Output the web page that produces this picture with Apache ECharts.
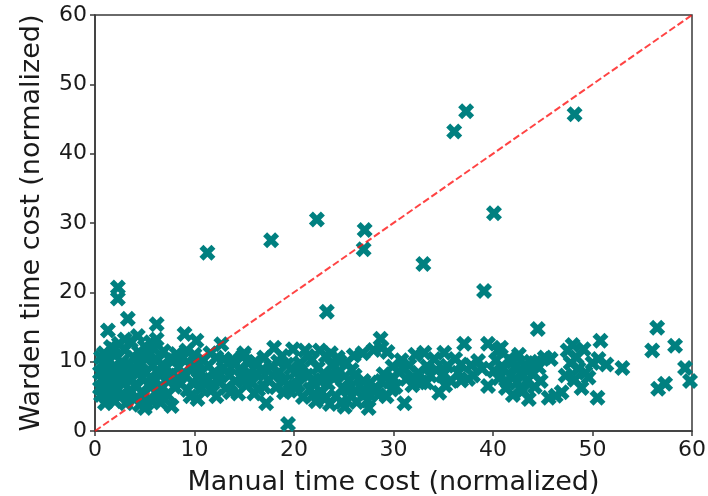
<!DOCTYPE html>
<html>
<head>
<meta charset="utf-8">
<script src="https://cdn.jsdelivr.net/npm/echarts@6/dist/echarts.min.js"></script>
<style>
html,body{margin:0;padding:0;background:#fff;}
#chart{width:708px;height:496px;}
</style>
</head>
<body>
<div id="chart"></div>
<script>
// Manual vs Warden time cost (normalized), [manual, warden]
var pointsA = [[0.6,5.2],[0.7,7.5],[0.8,9.8],[0.9,11.2],[1.0,6.3],[1.1,8.6],[1.2,4.8],[1.3,10.4],[1.3,14.5],[1.5,7.1],[1.6,12.1],[1.7,5.7],[1.8,9.2],[2.0,4.3],[2.0,10.9],[2.1,7.9],[2.2,6.2],[2.3,20.7],[2.3,19.1],[2.4,12.6],[2.5,8.8],[2.6,5.1],[2.7,10.0],[2.9,6.8],[3.0,11.7],[3.1,4.0],[3.2,8.3],[3.3,16.2],[3.4,9.6],[3.5,5.9],[3.6,12.9],[3.7,7.4],[3.9,10.6],[4.0,4.6],[4.1,8.9],[4.2,6.4],[4.3,13.7],[4.4,11.4],[4.5,3.8],[4.6,9.9],[4.7,7.6],[4.9,5.3],[5.0,3.3],[5.0,12.2],[5.1,8.4],[5.3,10.8],[5.4,6.7],[5.6,4.5],[5.8,9.4],[5.9,11.9],[6.0,7.2],[6.1,5.6],[6.2,15.4],[6.2,13.2],[6.3,10.2],[6.5,8.1],[6.6,4.1],[6.8,6.3],[6.9,11.5],[7.0,9.0],[7.2,7.4],[7.3,5.2],[7.5,10.4],[7.7,3.6],[7.8,8.3],[8.0,6.4],[8.2,11.1],[8.4,9.2]];
var pointsA2 = [[0.5,8.4],[0.6,10.6],[1.0,4.0],[1.4,9.0],[1.9,6.8],[2.8,7.4],[3.3,5.0],[3.8,9.0],[4.5,10.6],[5.2,4.0],[5.6,7.8],[6.4,6.0],[6.8,9.6],[7.4,8.0],[7.9,10.2],[3.0,13.2],[5.6,12.8],[1.9,11.8],[0.5,6.2]];
var pointsB = [[8.6,6.8],[8.8,10.5],[9.0,14.0],[9.1,8.0],[9.3,5.9],[9.6,9.4],[9.8,7.0],[10.0,11.0],[10.2,13.0],[10.3,4.6],[10.4,8.6],[10.7,6.2],[10.9,10.2],[11.2,7.6],[11.3,25.7],[11.4,9.4],[11.7,5.9],[12.0,8.4],[12.2,10.6],[12.5,7.0],[12.7,12.5],[12.9,9.1],[13.2,6.2],[13.5,8.0],[13.8,10.3],[14.1,7.2],[14.4,5.4],[14.6,9.0],[14.9,10.8],[15.2,6.6],[15.5,8.4],[15.8,7.0],[16.1,10.0],[16.4,6.0],[16.7,8.7],[17.0,10.6],[17.2,4.0],[17.4,7.4],[17.7,9.3],[17.7,27.5],[18.0,12.0],[18.2,6.3],[18.5,8.5],[18.8,10.8],[19.0,7.2],[19.3,9.6],[19.4,1.0],[19.6,5.8],[19.9,11.8],[20.1,8.4]];
var pointsB2 = [[8.3,7.6],[9.2,11.6],[9.6,5.0],[10.1,9.2],[10.8,7.4],[11.6,11.2],[11.8,6.8],[12.6,8.2],[13.0,10.4],[13.6,5.6],[14.0,9.6],[14.8,7.8],[15.4,9.8],[16.0,5.4],[16.3,8.2],[17.0,6.4],[17.9,8.0],[18.4,10.0],[19.0,5.6],[19.7,9.0],[12.2,5.0],[15.0,11.2],[20.0,6.4]];
var pointsC = [[20.4,6.6],[20.6,9.8],[20.9,4.9],[21.1,11.6],[21.3,8.0],[21.6,6.0],[21.8,10.3],[22.0,7.4],[22.2,4.3],[22.3,30.5],[22.4,9.1],[22.6,11.6],[22.8,5.6],[23.0,8.3],[23.2,10.8],[23.3,17.2],[23.4,6.8],[23.6,3.9],[23.8,9.5],[24.0,7.6],[24.2,5.0],[24.4,10.6],[24.6,8.6],[24.9,6.2],[25.1,3.5],[25.3,9.8],[25.5,7.3],[25.8,5.0],[26.0,10.9],[26.1,8.0],[26.3,4.2],[26.6,6.5],[26.9,11.2],[27.0,26.2],[27.1,29.0],[27.2,5.4],[27.5,3.3],[27.7,7.0],[28.0,11.7],[28.3,6.0],[28.7,13.3],[28.8,12.0],[29.0,8.2],[29.3,5.0],[29.6,7.1],[29.9,9.3]];
var pointsC2 = [[20.8,8.2],[21.4,10.8],[21.9,5.2],[22.6,7.2],[23.2,4.8],[23.7,11.2],[24.3,8.0],[24.8,4.2],[25.4,6.0],[25.8,8.8],[26.2,5.8],[24.6,10.0],[27.0,7.2],[27.4,4.4],[28.5,5.2],[28.8,7.2],[29.4,11.4],[29.8,6.0]];
var pointsD = [[30.2,6.4],[30.5,8.6],[30.8,10.2],[31.1,4.0],[31.3,7.5],[31.6,9.5],[31.9,6.6],[32.2,11.0],[32.5,8.4],[32.8,7.0],[33.0,24.1],[33.1,11.3],[33.4,9.3],[33.7,8.0],[34.1,10.4],[34.6,5.5],[34.9,8.0],[35.1,11.3],[35.4,9.4],[35.8,7.2],[36.1,43.2],[36.2,10.4],[36.5,8.4],[36.8,7.3],[37.1,12.6],[37.3,46.1],[37.5,7.5],[37.8,9.5],[38.5,10.1],[39.1,20.2],[39.5,12.6],[39.5,6.5],[40.1,8.7],[40.1,31.4],[40.5,11.6]];
var pointsD2 = [[30.0,7.6],[31.0,9.0],[32.0,7.8],[33.3,7.0],[34.3,8.8],[35.2,6.6],[36.8,9.6],[38.0,8.0],[38.9,9.0]];
var pointsE = [[40.3,10.2],[40.6,7.6],[40.8,12.0],[41.0,9.0],[41.3,6.2],[41.6,10.4],[41.8,8.0],[42.0,5.2],[42.2,9.2],[42.4,7.0],[42.6,11.0],[42.8,8.4],[43.0,5.8],[43.2,9.6],[43.4,7.2],[43.6,4.6],[43.8,10.0],[44.0,8.2],[44.2,6.4],[44.5,14.7],[44.6,9.2],[44.8,7.2],[45.2,10.6],[45.6,4.8],[45.8,10.4],[46.3,5.1],[46.9,5.6],[47.3,8.0],[47.5,11.6],[47.8,9.8],[48.0,12.4],[48.2,7.4],[48.2,45.7],[48.4,10.6],[48.6,9.0],[48.9,6.2],[49.1,11.8],[49.3,8.4],[49.6,7.7],[50.0,9.8],[50.5,4.8],[50.6,10.4],[50.8,13.0],[51.4,9.6],[53.0,9.1],[56.0,11.6],[56.5,14.9],[56.6,6.1],[57.3,6.8],[58.3,12.3],[59.3,9.1],[59.8,7.2]];
var pointsE2 = [[41.5,7.0],[42.0,10.0],[43.5,8.6],[44.2,9.8],[42.7,6.2]];
var diagonal = [[0,0],[60,60]];
var axisTicks = [0,10,20,30,40,50,60];

var allPoints = pointsA.concat(pointsA2, pointsB, pointsB2, pointsC, pointsC2, pointsD, pointsD2, pointsE, pointsE2);
var xMarker = 'path://M1 0L2 1L3 0L4 1L3 2L4 3L3 4L2 3L1 4L0 3L1 2L0 1Z';
var font = 'DejaVu Sans';

var chart = echarts.init(document.getElementById('chart'));
var axisCommon = {
  type: 'value', min: axisTicks[0], max: axisTicks[axisTicks.length-1], interval: 10,
  splitLine: {show: false},
  axisLine: {show: true, onZero: false, lineStyle: {color: '#3a3a3a', width: 1.5}},
  axisTick: {show: true, inside: false, length: 5, lineStyle: {color: '#3a3a3a', width: 1.5}},
  axisLabel: {color: '#1a1a1a', fontSize: 22, fontFamily: font, margin: 8},
  nameLocation: 'middle',
  nameTextStyle: {color: '#1a1a1a', fontSize: 27, fontFamily: font}
};
chart.setOption({
  animation: false,
  backgroundColor: '#fff',
  grid: {left: 95, right: 16, top: 15, bottom: 65, containLabel: false, outerBoundsMode: 'none',
         show: true, borderColor: '#3a3a3a', borderWidth: 1.5, backgroundColor: 'transparent'},
  xAxis: Object.assign({}, axisCommon, {name: 'Manual time cost (normalized)', nameGap: 38}),
  yAxis: Object.assign({}, axisCommon, {name: 'Warden time cost (normalized)', nameGap: 50}),
  series: [
    {type: 'scatter', data: allPoints, symbol: xMarker, symbolSize: 16,
     itemStyle: {color: '#008080', opacity: 1}, z: 2},
    {type: 'line', data: diagonal, symbol: 'none', z: 3,
     lineStyle: {color: 'rgba(255,20,20,0.8)', width: 2, type: [7, 3]}}
  ]
});
</script>
</body>
</html>
